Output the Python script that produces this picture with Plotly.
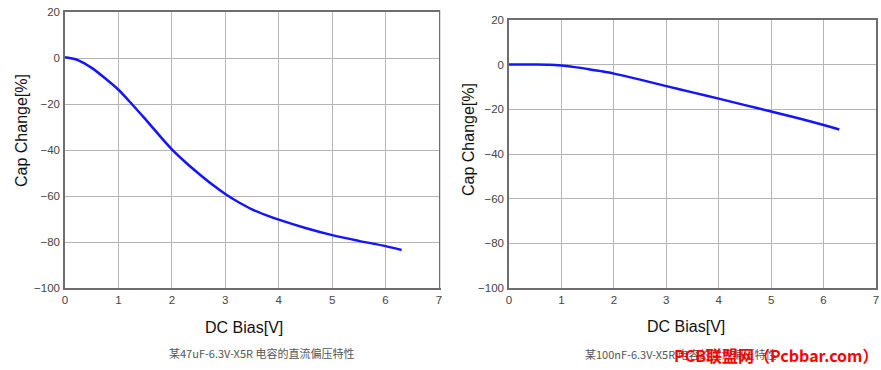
import plotly.graph_objects as go

# Left: 47uF-6.3V-X5R
bias_a = [0, 0.25, 0.5, 0.75, 1, 1.25, 1.5, 1.75, 2, 2.25, 2.5, 2.75, 3, 3.25, 3.5, 3.75, 4, 4.5, 5, 5.5, 6, 6.3]
change_a = [0.3, -1, -4.3, -8.8, -13.8, -20, -26.5, -33.2, -39.7, -45.2, -50.2, -54.9, -59.1, -62.7, -65.8, -68.2, -70.3, -73.9, -77, -79.5, -81.8, -83.5]

# Right: 100nF-6.3V-X5R
bias_b = [0, 0.5, 0.77, 1, 1.25, 1.5, 1.75, 2, 2.5, 3, 3.5, 4, 4.5, 5, 5.5, 6, 6.3]
change_b = [0.1, 0.1, 0.0, -0.4, -1.1, -1.9, -2.9, -4.0, -6.7, -9.6, -12.4, -15.2, -18.1, -21.0, -23.9, -27.0, -29.0]

x_ticks = [0, 1, 2, 3, 4, 5, 6, 7]
y_ticks = [20, 0, -20, -40, -60, -80, -100]

x_title = "DC Bias[V]"
y_title = "Cap Change[%]"
caption_a = "某47uF-6.3V-X5R 电容的直流偏压特性"
caption_b = "某100nF-6.3V-X5R 电容的直流偏压特性"
watermark = "PCB联盟网（Pcbbar.com）"

W, H = 881, 370

fig = go.Figure()
fig.add_trace(go.Scatter(x=bias_a, y=change_a, mode="lines",
                         line=dict(color="#1414ff", width=2.5, shape="spline", smoothing=0.8),
                         xaxis="x", yaxis="y", showlegend=False, hoverinfo="skip"))
fig.add_trace(go.Scatter(x=bias_b, y=change_b, mode="lines",
                         line=dict(color="#1414ff", width=2.5, shape="spline", smoothing=0.8),
                         xaxis="x2", yaxis="y2", showlegend=False, hoverinfo="skip"))

tickfont = dict(family="Liberation Sans Narrow, Liberation Sans, Arial", size=11.5, color="#444444")
axis_common = dict(showgrid=True, gridcolor="#b4b4b4", gridwidth=1,
                   showline=True, linecolor="#6e6e6e", linewidth=1.5, mirror=True,
                   zeroline=False, tickfont=tickfont, ticks="", fixedrange=True, automargin=False)


def px(x):
    return x / W


def py(y):
    return 1 - y / H


fig.update_layout(
    width=W, height=H,
    margin=dict(l=0, r=0, t=0, b=0, autoexpand=False),
    paper_bgcolor="white", plot_bgcolor="white",
    xaxis=dict(axis_common, domain=[px(65), px(439)], range=[0, 7], tickvals=x_ticks, anchor="y"),
    yaxis=dict(axis_common, domain=[py(288), py(12)], range=[-100, 20], tickvals=y_ticks, anchor="x",
               ticklabelstandoff=1),
    xaxis2=dict(axis_common, domain=[px(509), px(876)], range=[0, 7], tickvals=x_ticks, anchor="y2"),
    yaxis2=dict(axis_common, domain=[py(288), py(20)], range=[-100, 20], tickvals=y_ticks, anchor="x2",
                ticklabelstandoff=1),
)

title_font = dict(family="Liberation Sans, Arial", size=16, color="#111111")
cap_font = dict(family="Noto Sans CJK SC, Noto Sans", size=11, color="#555555")

ann = [
    dict(x=px(22), y=py(131), text=y_title, textangle=-90, font=title_font, showarrow=False,
         xref="paper", yref="paper", xanchor="center", yanchor="middle"),
    dict(x=px(244), y=py(327), text=x_title, font=title_font, showarrow=False,
         xref="paper", yref="paper", xanchor="center", yanchor="middle"),
    dict(x=px(468), y=py(140), text=y_title, textangle=-90, font=title_font, showarrow=False,
         xref="paper", yref="paper", xanchor="center", yanchor="middle"),
    dict(x=px(686), y=py(326), text=x_title, font=title_font, showarrow=False,
         xref="paper", yref="paper", xanchor="center", yanchor="middle"),
    dict(x=px(167), y=py(353), text=caption_a, font=cap_font, showarrow=False,
         xref="paper", yref="paper", xanchor="left", yanchor="middle"),
    dict(x=px(583), y=py(354), text=caption_b, font=cap_font, showarrow=False,
         xref="paper", yref="paper", xanchor="left", yanchor="middle"),
    dict(x=px(776), y=py(355), text="<b>" + watermark + "</b>",
         font=dict(family="Noto Sans CJK SC", size=16, color="#ff0000"), showarrow=False,
         xref="paper", yref="paper", xanchor="center", yanchor="middle"),
]
fig.update_layout(annotations=ann)

fig.add_shape(type="line", xref="paper", yref="paper", x0=px(440.5), x1=px(440.5), y0=py(288), y1=py(10),
              line=dict(color="#dddddd", width=1))

fig.write_html("out.html", config={"displayModeBar": False},
               post_script="document.body.style.margin='0px';")
